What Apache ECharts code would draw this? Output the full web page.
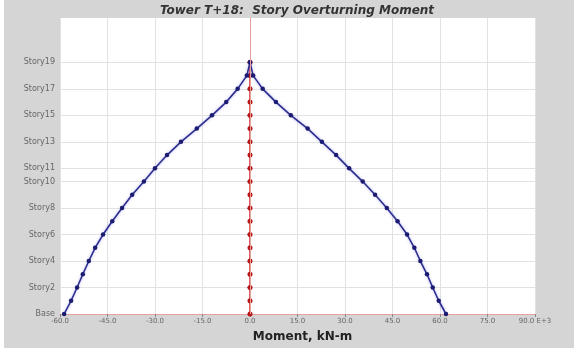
<!DOCTYPE html>
<html>
<head>
<meta charset="utf-8">
<script src="https://cdn.jsdelivr.net/npm/echarts@6/dist/echarts.min.js"></script>
<style>
  html, body { margin: 0; padding: 0; background: #ffffff; }
  #chart { position: absolute; left: 4px; top: 0; width: 570px; height: 348px; background: #d5d5d5; }
</style>
</head>
<body>
<div id="chart"></div>
<script>
// Story levels (0 = Base ... 19 = Story19)
const storyNames = ['Base','Story1','Story2','Story3','Story4','Story5','Story6','Story7','Story8','Story9',
  'Story10','Story11','Story12','Story13','Story14','Story15','Story16','Story17','Story18','Story19'];
const labelledStories = [0, 2, 4, 6, 8, 10, 11, 13, 15, 17, 19];

// Overturning moment envelope (kN-m, E+3), Base -> Story19
const momentNegative = [-58.7, -56.5, -54.6, -52.8, -50.9, -48.9, -46.4, -43.5, -40.4, -37.2,
  -33.5, -30.0, -26.2, -21.8, -16.8, -12.0, -7.5, -3.9, -1.0, 0];
const momentPositive = [61.9, 59.6, 57.7, 55.9, 53.8, 51.9, 49.6, 46.6, 43.2, 39.5,
  35.6, 31.3, 27.2, 22.7, 18.2, 12.9, 8.2, 4.0, 1.0, 0];
// Moment in the orthogonal direction
const momentOther = [0, 0, 0, 0, 0, 0, 0, 0, 0, 0, 0, 0, 0, 0, 0, 0, 0, 0, 0, 0];

const xTicks = { min: -60, max: 90, interval: 15 };

// Envelope drawn as one loop: up the negative side, down the positive side
const envelope = [];
momentNegative.forEach((v, i) => envelope.push([v, i]));
for (let i = momentPositive.length - 2; i >= 0; i--) envelope.push([momentPositive[i], i]);
const other = momentOther.map((v, i) => [v, i]);

const chart = echarts.init(document.getElementById('chart'));
chart.setOption({
  animation: false,
  title: {
    text: 'Tower T+18:  Story Overturning Moment',
    left: 288, top: 0, textAlign: 'center',
    textStyle: { fontFamily: 'DejaVu Sans', fontSize: 12, fontWeight: 'bold', fontStyle: 'italic', color: '#333' }
  },
  grid: {
    left: 56, right: 39, top: 18, bottom: 29,
    show: true, backgroundColor: '#ffffff', borderWidth: 0
  },
  xAxis: {
    type: 'value', min: xTicks.min, max: xTicks.max, interval: xTicks.interval,
    name: 'Moment, kN-m', nameLocation: 'middle', nameGap: 17,
    nameTextStyle: { fontFamily: 'DejaVu Sans', fontSize: 12, fontWeight: 'bold', color: '#222', padding: [0, 0, 0, 10] },
    axisLine: { onZero: false, lineStyle: { color: '#e6a0a0', width: 1 } },
    axisTick: { show: true, length: 3, lineStyle: { color: '#888' } },
    axisLabel: {
      fontFamily: 'DejaVu Sans', fontSize: 7, color: '#666', margin: 4,
      formatter: v => v === xTicks.max ? v.toFixed(1) + ' E+3' : v.toFixed(1)
    },
    splitLine: { show: true, lineStyle: { color: '#e2e2e2', width: 1 } }
  },
  yAxis: {
    type: 'value', min: 0, max: 22.35,
    axisLine: { show: false },
    axisTick: { show: true, length: 3, customValues: labelledStories, lineStyle: { color: '#888' } },
    axisLabel: {
      fontFamily: 'DejaVu Sans', fontSize: 8, color: '#666', margin: 5,
      customValues: labelledStories,
      formatter: v => storyNames[Math.round(v)]
    },
    splitLine: { show: true, lineStyle: { color: '#e2e2e2', width: 1 } }
  },
  series: [
    {
      type: 'line', data: other, z: 3,
      lineStyle: { color: '#d22a2a', width: 1.5 },
      itemStyle: { color: '#b81515' },
      symbol: 'circle', symbolSize: 5,
      markLine: {
        silent: true, symbol: 'none', label: { show: false },
        lineStyle: { color: '#e6a0a0', width: 1, type: 'solid' },
        data: [{ xAxis: 0 }]
      }
    },
    {
      type: 'line', data: envelope, z: 4,
      lineStyle: { color: '#2e2e8e', width: 1.6, shadowColor: 'rgba(80,80,230,0.45)', shadowBlur: 3 },
      itemStyle: { color: '#1c1c72' },
      symbol: 'circle', symbolSize: 4.5
    }
  ]
});
</script>
</body>
</html>
